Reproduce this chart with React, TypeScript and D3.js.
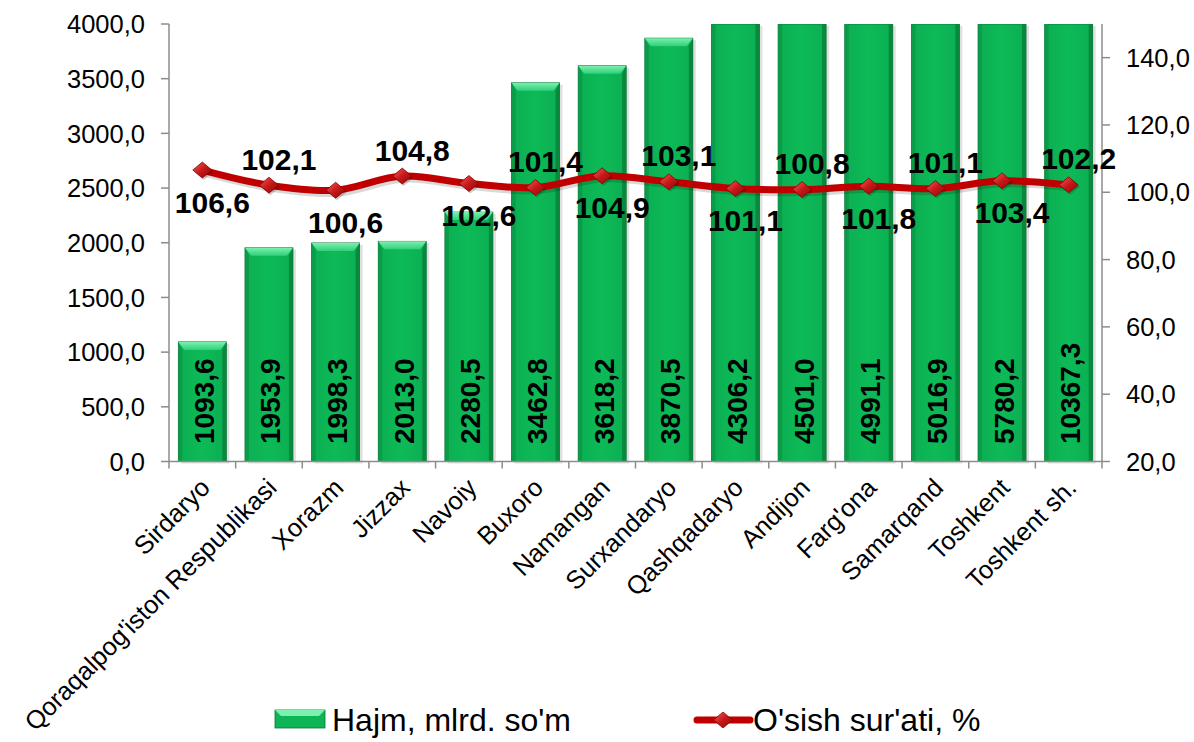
import React from "react";
import * as d3 from "d3";

const categories = [
  "Sirdaryo",
  "Qoraqalpog'iston Respublikasi",
  "Xorazm",
  "Jizzax",
  "Navoiy",
  "Buxoro",
  "Namangan",
  "Surxandaryo",
  "Qashqadaryo",
  "Andijon",
  "Farg'ona",
  "Samarqand",
  "Toshkent",
  "Toshkent sh.",
];
const volume = [1093.6, 1953.9, 1998.3, 2013.0, 2280.5, 3462.8, 3618.2, 3870.5, 4306.2, 4501.0, 4991.1, 5016.9, 5780.2, 10367.3];
const growth = [106.6, 102.1, 100.6, 104.8, 102.6, 101.4, 104.9, 103.1, 101.1, 100.8, 101.8, 101.1, 103.4, 102.2];
const leftTicks = [0, 500, 1000, 1500, 2000, 2500, 3000, 3500, 4000];
const rightTicks = [20, 40, 60, 80, 100, 120, 140];
const legendLabels = ["Hajm, mlrd. so'm", "O'sish sur'ati, %"];

const W = 1194;
const H = 742;
const left = 169;
const right = 1102;
const top = 24;
const bottom = 461.5;
const FONT = "'Liberation Sans', Arial, sans-serif";

const fmt = (v: number) => v.toFixed(1).replace(".", ",");

export default function App() {
  const x = d3.scaleBand<string>().domain(categories).range([left, right]).paddingInner(0.28).paddingOuter(0.14);
  const yL = d3.scaleLinear().domain([0, 4000]).range([bottom, top]);
  const yR = d3.scaleLinear().domain([20, 150]).range([bottom, top]);
  const bw = x.bandwidth();
  const step = x.step();

  const pts: [number, number][] = categories.map((c, i) => [x(c)! + bw / 2, yR(growth[i])]);
  const line = d3.line().curve(d3.curveCatmullRom.alpha(0.5))(pts) || "";

  const diamond = (cx: number, cy: number, s = 1) =>
    `M${cx},${cy - 8 * s} L${cx + 9.5 * s},${cy} L${cx},${cy + 8 * s} L${cx - 9.5 * s},${cy} Z`;

  const bar = (x0: number, y0: number, w: number, h: number, clipped: boolean, key: string) => {
    const bev = 8;
    return (
      <g key={key}>
        <rect x={x0 + 3} y={y0 + 2} width={w} height={h} fill="#000" opacity={0.12} />
        <rect x={x0} y={y0} width={w} height={h} fill="url(#barBody)" stroke="#0B7436" strokeWidth={0.8} />
        {!clipped && (
          <polygon
            points={`${x0},${y0} ${x0 + w},${y0} ${x0 + w - 6},${y0 + bev} ${x0 + 6},${y0 + bev}`}
            fill="url(#barTop)"
          />
        )}
        <polygon
          points={`${x0},${y0} ${x0 + 4},${y0 + (clipped ? 0 : bev)} ${x0 + 4},${y0 + h} ${x0},${y0 + h}`}
          fill="#0A9444"
          opacity={0.7}
        />
        <polygon
          points={`${x0 + w},${y0} ${x0 + w - 4},${y0 + (clipped ? 0 : bev)} ${x0 + w - 4},${y0 + h} ${x0 + w},${y0 + h}`}
          fill="#08803A"
          opacity={0.8}
        />
      </g>
    );
  };

  return (
    <svg width={W} height={H} style={{ position: "absolute", left: 0, top: 0, background: "#fff" }} fontFamily={FONT}>
      <defs>
        <linearGradient id="barBody" x1="0" x2="1" y1="0" y2="0">
          <stop offset="0" stopColor="#0BAE52" />
          <stop offset="0.5" stopColor="#0DBA57" />
          <stop offset="1" stopColor="#0BAE52" />
        </linearGradient>
        <linearGradient id="barTop" x1="0" x2="0" y1="0" y2="1">
          <stop offset="0" stopColor="#7CF0AE" />
          <stop offset="1" stopColor="#2FD07A" />
        </linearGradient>
        <linearGradient id="dia" x1="0" x2="1" y1="0" y2="1">
          <stop offset="0" stopColor="#F26060" />
          <stop offset="0.5" stopColor="#C81818" />
          <stop offset="1" stopColor="#8A0808" />
        </linearGradient>
        <clipPath id="plotClip">
          <rect x={left} y={top} width={right - left} height={bottom - top + 10} />
        </clipPath>
      </defs>

      {/* bars */}
      <g clipPath="url(#plotClip)">
        {categories.map((c, i) => {
          const v = volume[i];
          const clipped = v > 4000;
          const yTop = yL(Math.min(v, 4000));
          return bar(x(c)!, yTop, bw, bottom - yTop, clipped, c);
        })}
      </g>

      {/* bar value labels */}
      {categories.map((c, i) => {
        const cx = x(c)! + bw / 2 + 2;
        const by = 444;
        return (
          <text
            key={"bl" + c}
            transform={`translate(${cx},${by}) rotate(-90)`}
            dominantBaseline="central"
            fontSize={28}
            fontWeight="bold"
            fill="#000"
          >
            {fmt(volume[i])}
          </text>
        );
      })}

      {/* axes */}
      <g stroke="#8C8C8C" strokeWidth={1.5} fill="none">
        <line x1={left} x2={left} y1={top} y2={bottom} />
        <line x1={right} x2={right} y1={top} y2={bottom} />
        <line x1={left} x2={right} y1={bottom} y2={bottom} />
        {leftTicks.map((t) => (
          <line key={"lt" + t} x1={left - 8} x2={left} y1={yL(t)} y2={yL(t)} />
        ))}
        {rightTicks.map((t) => (
          <line key={"rt" + t} x1={right} x2={right + 8} y1={yR(t)} y2={yR(t)} />
        ))}
        {d3.range(categories.length + 1).map((i) => (
          <line key={"bt" + i} x1={left + i * step} x2={left + i * step} y1={bottom} y2={bottom + 7} />
        ))}
      </g>
      {leftTicks.map((t) => (
        <text key={"ltl" + t} x={145} y={yL(t)} dy="0.36em" textAnchor="end" fontSize={25.5} fill="#000">
          {fmt(t)}
        </text>
      ))}
      {rightTicks.map((t) => (
        <text key={"rtl" + t} x={1126} y={yR(t)} dy="0.36em" textAnchor="start" fontSize={25.5} fill="#000">
          {fmt(t)}
        </text>
      ))}

      {/* category labels */}
      {categories.map((c) => {
        const cx = x(c)! + bw / 2 + 3;
        return (
          <text
            key={"cl" + c}
            transform={`translate(${cx},${483}) rotate(-45)`}
            textAnchor="end"
            dy="0.35em"
            fontSize={25.5}
            fill="#000"
          >
            {c}
          </text>
        );
      })}

      {/* growth line */}
      <path d={line} fill="none" stroke="#000" strokeOpacity={0.15} strokeWidth={7} transform="translate(2,3)" />
      <path d={line} fill="none" stroke="#C00000" strokeWidth={7} strokeLinejoin="round" strokeLinecap="round" />
      {pts.map(([px, py], i) => (
        <g key={"m" + i}>
          <path d={diamond(px + 1.5, py + 2)} fill="#000" opacity={0.2} />
          <path d={diamond(px, py)} fill="url(#dia)" stroke="#8A0000" strokeWidth={0.8} />
        </g>
      ))}
      {pts.map(([px, py], i) => {
        const above = i % 2 === 1;
        return (
          <text
            key={"gl" + i}
            x={px + 10}
            y={above ? py - 26 : py + 32}
            dominantBaseline="central"
            textAnchor="middle"
            fontSize={30}
            fontWeight="bold"
            fill="#000"
          >
            {fmt(growth[i])}
          </text>
        );
      })}

      {/* legend */}
      <g>
        <rect x={275} y={710} width={50} height={18} fill="#0DB556" stroke="#0B7436" strokeWidth={0.8} />
        <polygon points="275,710 325,710 319,716 281,716" fill="#7CF0AE" />
        <text x={332} y={720} dominantBaseline="central" fontSize={32} fill="#000">
          {legendLabels[0]}
        </text>
        <line x1={697} x2={750} y1={720} y2={720} stroke="#C00000" strokeWidth={7} strokeLinecap="round" />
        <path d={diamond(723, 720)} fill="url(#dia)" stroke="#8A0000" strokeWidth={0.8} />
        <text x={753} y={720} dominantBaseline="central" fontSize={32} fill="#000">
          {legendLabels[1]}
        </text>
      </g>
    </svg>
  );
}
